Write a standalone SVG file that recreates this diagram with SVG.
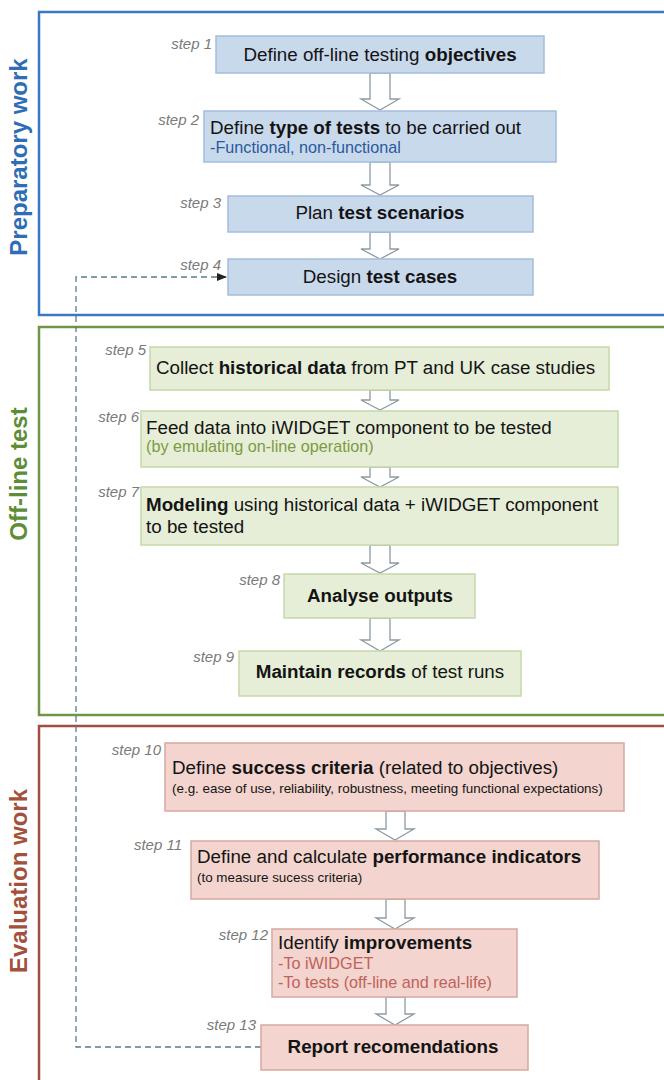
<svg xmlns="http://www.w3.org/2000/svg" width="664" height="1080" viewBox="0 0 664 1080">
<style>
text{font-family:"Liberation Sans",Arial,sans-serif}
.t{font-size:18.8px;fill:#141414}
.b{font-weight:bold}
.sub{font-size:16.2px}
.small{font-size:13.4px;fill:#141414}
.lbl{font-size:15px;font-style:italic;fill:#7a7a7a;text-anchor:end}
.title{font-size:24px;font-weight:bold;text-anchor:middle}
.frame{fill:none;stroke-width:2.5}
.bb{fill:#c9d9ec;stroke:#a3bddc;stroke-width:1.5}
.gb{fill:#e6eed8;stroke:#c5d8aa;stroke-width:1.5}
.rb{fill:#f3d4ce;stroke:#d6a9a0;stroke-width:1.5}
.arr{fill:#fff;stroke:#8c9aa4;stroke-width:1.3}
.dash{fill:none;stroke:#5b7b8a;stroke-width:1.3;stroke-dasharray:6 4}
</style>
<defs>
<marker id="ah" markerWidth="10" markerHeight="8" refX="9" refY="4" orient="auto" markerUnits="userSpaceOnUse">
<path d="M0,0 L10,4 L0,8 Z" fill="#222"/>
</marker>
</defs>
<rect width="664" height="1080" fill="#fff"/>

<g id="frames">
<rect class="frame" x="39" y="12" width="640" height="303" stroke="#3a78c2"/>
<rect class="frame" x="39" y="327" width="640" height="388" stroke="#6f9647"/>
<rect class="frame" x="39" y="726" width="640" height="370" stroke="#9e4e44"/>
<text class="title" transform="translate(27,157) rotate(-90)" fill="#2f6db5">Preparatory work</text>
<text class="title" transform="translate(27,474) rotate(-90)" fill="#5e8d38">Off-line test</text>
<text class="title" transform="translate(27,881) rotate(-90)" fill="#a3513d">Evaluation work</text>
</g>

<g id="connectors">
<path class="arr" d="M370,73 H390 V99 H399 L380,110 L361,99 H370 Z"/>
<path class="arr" d="M370,162 H390 V185 H399 L380,195 L361,185 H370 Z"/>
<path class="arr" d="M370,232 H390 V249 H399 L380,259 L361,249 H370 Z"/>
<path class="arr" d="M370,390 H390 V400 H399 L380,410 L361,400 H370 Z"/>
<path class="arr" d="M370,467 H390 V477 H399 L380,487 L361,477 H370 Z"/>
<path class="arr" d="M370,545 H390 V563 H399 L380,573 L361,563 H370 Z"/>
<path class="arr" d="M370,618 H390 V640 H399 L380,651 L361,640 H370 Z"/>
<path class="arr" d="M386,811 H405 V829 H414 L395,840 L376,829 H386 Z"/>
<path class="arr" d="M386,899 H405 V918 H414 L395,929 L376,918 H386 Z"/>
<path class="arr" d="M386,997 H405 V1014 H414 L395,1025 L376,1014 H386 Z"/>
<path class="dash" d="M261,1047 H76 V277 H226" marker-end="url(#ah)"/>
</g>

<g id="step1">
<rect class="bb" x="216" y="36" width="328" height="37"/>
<text class="lbl" x="212" y="49">step 1</text>
<text class="t" x="380" y="61" text-anchor="middle">Define off-line testing <tspan class="b">objectives</tspan></text>
</g>
<g id="step2">
<rect class="bb" x="204" y="111" width="352" height="51"/>
<text class="lbl" x="199" y="125">step 2</text>
<text class="t" x="210" y="134">Define <tspan class="b">type of tests</tspan> to be carried out</text>
<text class="sub" x="210" y="153" fill="#2a5a9c">-Functional, non-functional</text>
</g>
<g id="step3">
<rect class="bb" x="228" y="196" width="305" height="36"/>
<text class="lbl" x="221" y="208">step 3</text>
<text class="t" x="380" y="219" text-anchor="middle">Plan <tspan class="b">test scenarios</tspan></text>
</g>
<g id="step4">
<rect class="bb" x="228" y="259" width="305" height="36"/>
<text class="lbl" x="221" y="270">step 4</text>
<text class="t" x="380" y="283" text-anchor="middle">Design <tspan class="b">test cases</tspan></text>
</g>

<g id="step5">
<rect class="gb" x="150" y="347" width="459" height="43"/>
<text class="lbl" x="146" y="355">step 5</text>
<text class="t" x="156" y="374">Collect <tspan class="b">historical data</tspan> from PT and UK case studies</text>
</g>
<g id="step6">
<rect class="gb" x="141" y="411" width="477" height="56"/>
<text class="lbl" x="139" y="422">step 6</text>
<text class="t" x="146" y="434">Feed data into iWIDGET component to be tested</text>
<text class="sub" x="146" y="452" fill="#7e9a42">(by emulating on-line operation)</text>
</g>
<g id="step7">
<rect class="gb" x="141" y="487" width="477" height="58"/>
<text class="lbl" x="139" y="497">step 7</text>
<text class="t" x="146" y="511"><tspan class="b">Modeling</tspan> using historical data + iWIDGET component</text>
<text class="t" x="146" y="533">to be tested</text>
</g>
<g id="step8">
<rect class="gb" x="284" y="574" width="191" height="44"/>
<text class="lbl" x="280" y="585">step 8</text>
<text class="t b" x="380" y="602" text-anchor="middle">Analyse outputs</text>
</g>
<g id="step9">
<rect class="gb" x="239" y="651" width="282" height="45"/>
<text class="lbl" x="234" y="662">step 9</text>
<text class="t" x="380" y="678" text-anchor="middle"><tspan class="b">Maintain records</tspan> of test runs</text>
</g>

<g id="step10">
<rect class="rb" x="165" y="743" width="459" height="68"/>
<text class="lbl" x="161" y="755">step 10</text>
<text class="t" x="172" y="774">Define <tspan class="b">success criteria</tspan> (related to objectives)</text>
<text class="small" x="172" y="793">(e.g. ease of use, reliability, robustness, meeting functional expectations)</text>
</g>
<g id="step11">
<rect class="rb" x="191" y="841" width="408" height="58"/>
<text class="lbl" x="182" y="850">step 11</text>
<text class="t" x="197" y="863">Define and calculate <tspan class="b">performance indicators</tspan></text>
<text class="small" x="197" y="882">(to measure sucess criteria)</text>
</g>
<g id="step12">
<rect class="rb" x="272" y="929" width="245" height="68"/>
<text class="lbl" x="268" y="940">step 12</text>
<text class="t" x="278" y="949">Identify <tspan class="b">improvements</tspan></text>
<text class="sub" x="278" y="969" fill="#c0625a">-To iWIDGET</text>
<text class="sub" x="278" y="988" fill="#c0625a">-To tests (off-line and real-life)</text>
</g>
<g id="step13">
<rect class="rb" x="261" y="1025" width="267" height="45"/>
<text class="lbl" x="256" y="1030">step 13</text>
<text class="t b" x="393" y="1053" text-anchor="middle">Report recomendations</text>
</g>
</svg>
